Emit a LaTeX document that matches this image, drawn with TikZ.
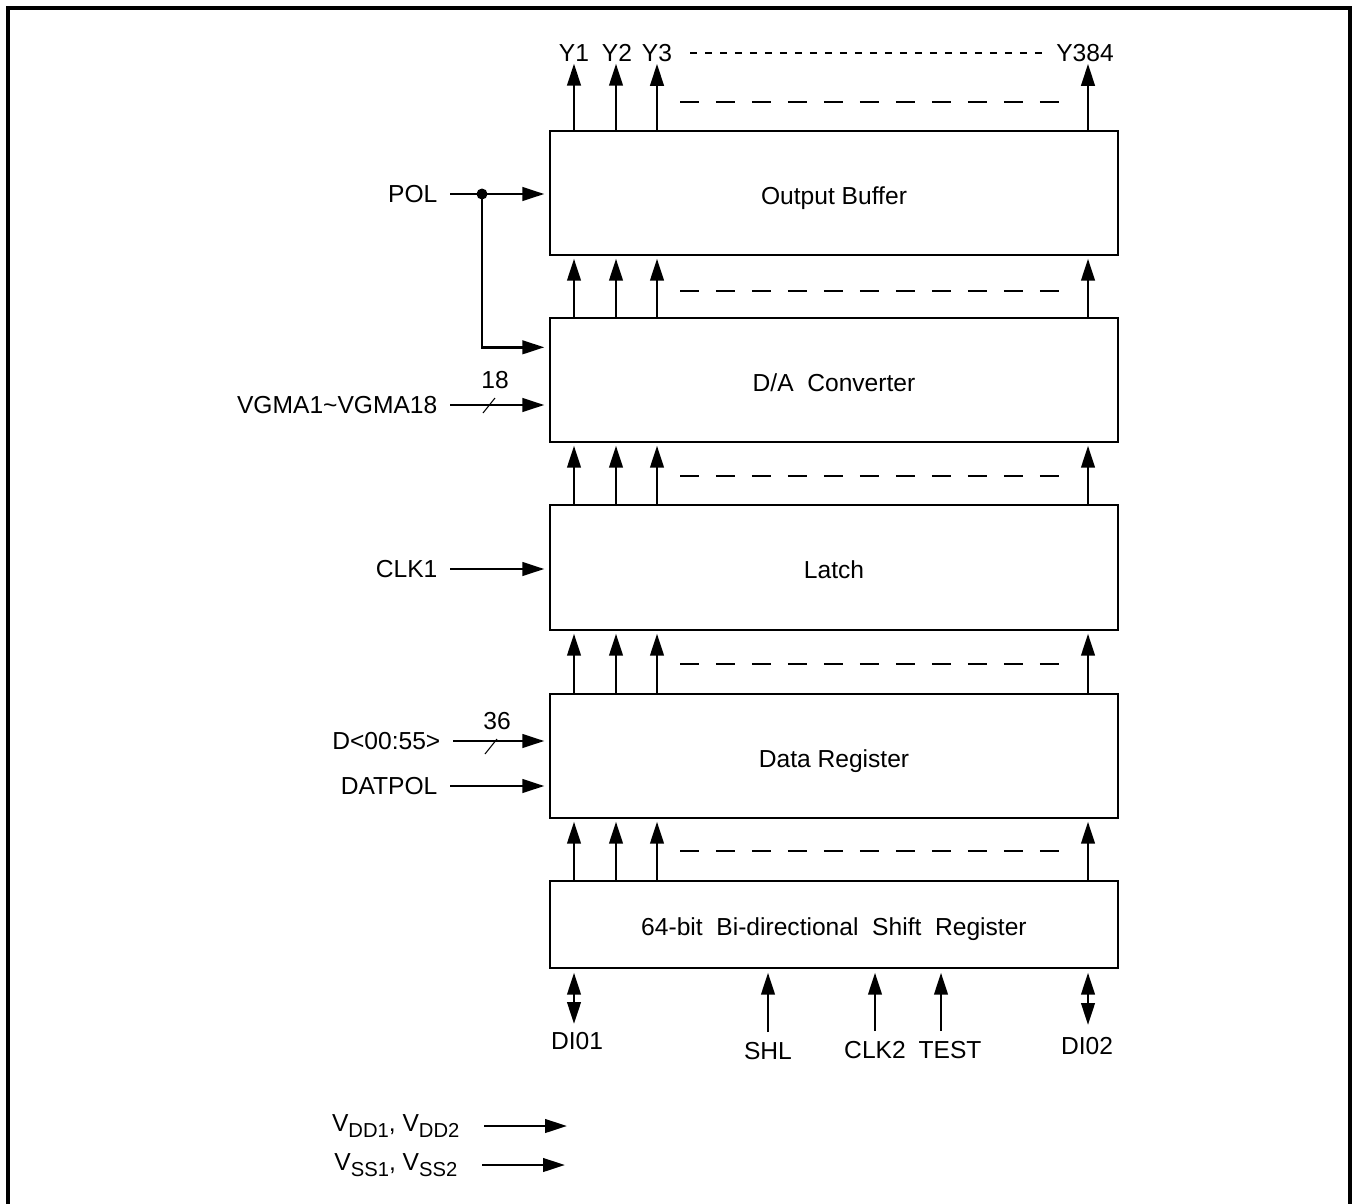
\documentclass[tikz,border=0pt]{standalone}
\usepackage{fontspec}
\setmainfont{Liberation Sans}
\usetikzlibrary{positioning,calc,arrows.meta}
\tikzset{
  blk/.style={draw=black,line width=0.8pt,minimum width=11.36cm,inner sep=0pt,text height=13pt,text depth=0pt},
  sig/.style={line width=1.5pt,-{Triangle[length=0.44cm,width=0.27cm]}},
  bisig/.style={line width=1.5pt,{Triangle[length=0.44cm,width=0.27cm]}-{Triangle[length=0.44cm,width=0.27cm]}},
  lbl/.style={inner xsep=7pt,inner ysep=1pt},
  gap/.style={line width=1.5pt,dash pattern=on 0.38cm off 0.34cm},
  dots/.style={line width=1.2pt,dash pattern=on 0.14cm off 0.16cm},
  bus/.style={line width=0.6pt},
  frame/.style={line width=2pt},
  dot/.style={circle,fill=black,inner sep=0pt,minimum size=0.22cm},
}
\newcommand{\sub}[1]{\raisebox{-0.25em}{\fontsize{11.5}{13}\selectfont #1}}

\begin{document}
\begin{tikzpicture}[x=0.02cm,y=-0.02cm,font=\fontsize{14}{16}\selectfont]
\useasboundingbox (0,0) rectangle (1353,1204);
\draw[frame] (8,1204) -- (8,8) -- (1350,8) -- (1350,1204);

% blocks
\node[blk,minimum height=2.48cm] (buf) at (834,193) {Output Buffer};
\node[blk,minimum height=2.48cm] (dac) at (834,380) {D/A\ \ Converter};
\node[blk,minimum height=2.50cm] (latch) at (834,567.5) {Latch};
\node[blk,minimum height=2.48cm] (dreg) at (834,756) {Data Register};
\node[blk,minimum height=1.74cm] (sreg) at (834,924.5) {64-bit\ \ Bi-directional\ \ Shift\ \ Register};

% columns
\foreach \n/\x in {a/574,b/616,c/657,d/1088}
  \coordinate (col\n) at (\x,0);

\foreach \lo/\hi in {dac/buf,latch/dac,dreg/latch,sreg/dreg}
  \foreach \n in {a,b,c,d}
    \draw[sig,shorten >=0.06cm] (col\n |- \lo.north) -- (col\n |- \hi.south);

\foreach \y in {102,291,476,664,851}
  \draw[gap] (680,\y) -- (1062,\y);

% outputs
\node[lbl,inner xsep=1pt] (y1) at (574,53) {Y1};
\node[lbl,inner xsep=1pt] (y2) at (617,53) {Y2};
\node[lbl,inner xsep=1pt] (y3) at (657,53) {Y3};
\node[lbl,inner xsep=1pt] (y384) at (1085,53) {Y384};
\foreach \n/\m in {a/y1,b/y2,c/y3,d/y384}
  \draw[sig] (col\n |- buf.north) -- (col\n |- \m.south);
\draw[dots] (690,53) -- (1046,53);

% left inputs
\node[lbl,anchor=east] (pol) at (450,194) {POL};
\coordinate (polj) at (482,194);
\coordinate (dacpol) at ($(dac.north west)+(0,30)$);
\draw[sig,shorten >=0.1cm] (pol.east) -- (pol.east -| buf.west);
\draw[sig,shorten >=0.1cm] (polj) |- (dacpol);
\node[dot] at (polj) {};

\node[lbl,anchor=east] (vgma) at (450,405) {VGMA1\textasciitilde VGMA18};
\draw[sig,shorten >=0.1cm] (vgma.east) -- (vgma.east -| dac.west);
\draw[bus] (483,413) -- (495,398);
\node at (495,380) {18};

\node[lbl,anchor=east] (clk1) at (450,569) {CLK1};
\draw[sig,shorten >=0.1cm] (clk1.east) -- (clk1.east -| latch.west);

\node[lbl,anchor=east] (din) at (453,741) {D<00:55>};
\draw[sig,shorten >=0.1cm] (din.east) -- (din.east -| dreg.west);
\draw[bus] (485,754) -- (497,739);
\node at (497,721) {36};

\node[lbl,anchor=east] (datpol) at (450,786) {DATPOL};
\draw[sig,shorten >=0.1cm] (datpol.east) -- (datpol.east -| dreg.west);

% bottom pins
\node (di1) at (577,1041) {DI01};
\node (shl) at (768,1051) {SHL};
\node (clk2) at (875,1050) {CLK2};
\node (test) at (950,1050) {TEST};
\node (di2) at (1087,1046) {DI02};
\coordinate (di1end) at (574,1024);
\coordinate (di2end) at (1088,1025);
\draw[bisig,shorten <=0.08cm] (cola |- sreg.south) -- (di1end);
\draw[bisig,shorten <=0.08cm] (cold |- sreg.south) -- (di2end);
\draw[sig,shorten <=0.08cm,shorten >=0.08cm] (shl.north) -- (shl.north |- sreg.south);
\draw[sig,shorten <=0.08cm,shorten >=0.08cm] (clk2.north) -- (clk2.north |- sreg.south);
\draw[sig,shorten <=0.08cm,shorten >=0.08cm] ($(test.north)+(-9,0)$) -- ($(test.north |- sreg.south)+(-9,0)$);

% supplies
\node[lbl,anchor=east] (vdd) at (472,1126) {V\sub{DD1}, V\sub{DD2}};
\coordinate (vddend) at (567,1126);
\draw[sig,shorten <=0.24cm] (vdd.east) -- (vddend);
\node[lbl,anchor=east] (vss) at (470,1165) {V\sub{SS1}, V\sub{SS2}};
\coordinate (vssend) at (565,1165);
\draw[sig,shorten <=0.24cm] (vss.east) -- (vssend);
\end{tikzpicture}
\end{document}
